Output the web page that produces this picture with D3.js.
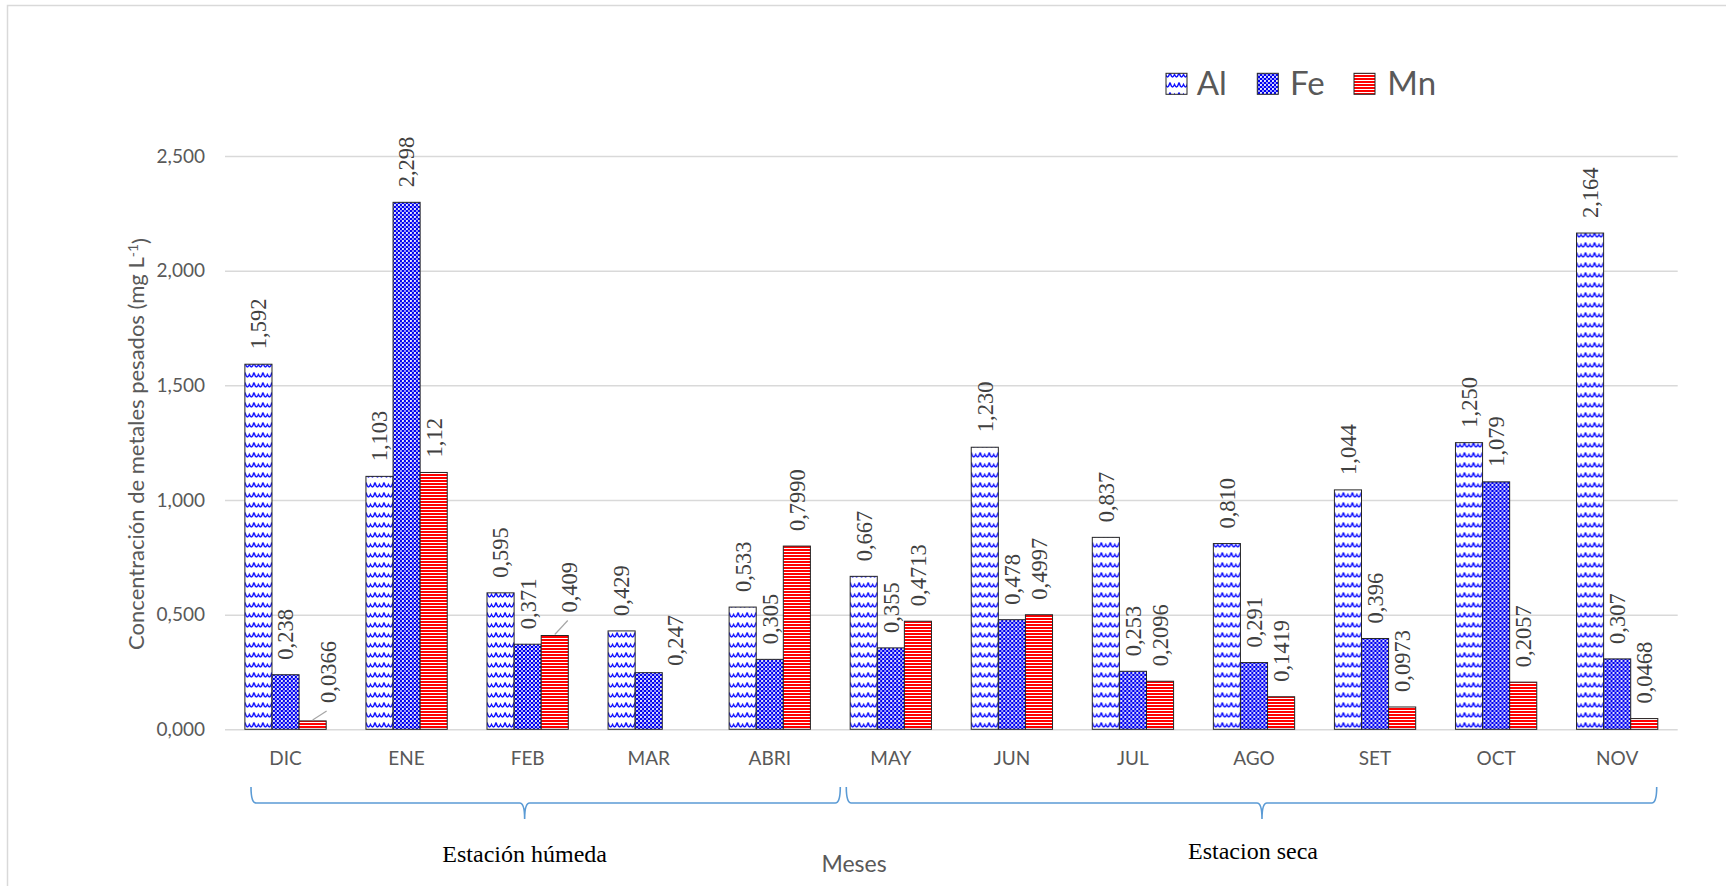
<!DOCTYPE html>
<html>
<head>
<meta charset="utf-8">
<script src="https://cdn.jsdelivr.net/npm/d3@7"></script>
<style>
  html, body { margin: 0; padding: 0; background: #fff; }
  svg { display: block; }
</style>
</head>
<body>
<svg id="chart" width="1726" height="886"></svg>
<script>
// Monthly heavy-metal concentrations (mg/L)
const months = ["DIC", "ENE", "FEB", "MAR", "ABRI", "MAY", "JUN", "JUL", "AGO", "SET", "OCT", "NOV"];
const alValues = [1.592, 1.103, 0.595, 0.429, 0.533, 0.667, 1.230, 0.837, 0.810, 1.044, 1.250, 2.164];
const feValues = [0.238, 2.298, 0.371, 0.247, 0.305, 0.355, 0.478, 0.253, 0.291, 0.396, 1.079, 0.307];
// Mn values as printed (variable precision); MAR has no measurement
const mnLabels = ["0,0366", "1,12", "0,409", null, "0,7990", "0,4713", "0,4997", "0,2096", "0,1419", "0,0973", "0,2057", "0,0468"];
const mnValues = mnLabels.map(s => s === null ? null : +s.replace(",", "."));

const seriesNames = ["Al", "Fe", "Mn"];
const yTickValues = [0, 0.5, 1.0, 1.5, 2.0, 2.5];
const yTickLabels = ["0,000", "0,500", "1,000", "1,500", "2,000", "2,500"];
const seasonNames = ["Estación húmeda", "Estacion seca"];

const svg = d3.select("#chart");
const W = 1726, H = 886;
const plot = { left: 225, right: 1677.7, top: 156, bottom: 729.3 };

svg.append("rect").attr("width", W).attr("height", H).attr("fill", "#fff");
// chart frame
svg.append("rect").attr("x", 7.5).attr("y", 5.5).attr("width", 1800).attr("height", 1000)
  .attr("fill", "none").attr("stroke", "#d9d9d9").attr("stroke-width", 1.5);

// ---- fill patterns ----
const defs = svg.append("defs");
const pAl = defs.append("pattern").attr("id", "pat-al").attr("patternUnits", "userSpaceOnUse")
  .attr("width", 9).attr("height", 10);
pAl.append("rect").attr("width", 9).attr("height", 10).attr("fill", "#fff");
pAl.append("path").attr("d", "M0,2.5 C1.6,8 2.9,8 4.5,4.5 C6.1,8 7.4,8 9,2.5")
  .attr("fill", "none").attr("stroke", "#1010ff").attr("stroke-width", 1.5);

const pFe = defs.append("pattern").attr("id", "pat-fe").attr("patternUnits", "userSpaceOnUse")
  .attr("width", 4).attr("height", 4);
pFe.append("rect").attr("width", 4).attr("height", 4).attr("fill", "#0000f0");
pFe.append("circle").attr("cx", 1).attr("cy", 1).attr("r", 1.05).attr("fill", "#fff");
pFe.append("circle").attr("cx", 3).attr("cy", 3).attr("r", 0.9).attr("fill", "#e4e4ff");

const pMn = defs.append("pattern").attr("id", "pat-mn").attr("patternUnits", "userSpaceOnUse")
  .attr("width", 6).attr("height", 3);
pMn.append("rect").attr("width", 6).attr("height", 3).attr("fill", "#fff");
pMn.append("rect").attr("width", 6).attr("height", 2).attr("fill", "#ff0000");

const fills = { Al: "url(#pat-al)", Fe: "url(#pat-fe)", Mn: "url(#pat-mn)" };

// ---- scales ----
const x0 = d3.scaleBand().domain(months).range([plot.left, plot.right])
  .paddingInner(0.3285).paddingOuter(0.16425);
const x1 = d3.scaleBand().domain(seriesNames).range([0, x0.bandwidth()]).padding(0);
const y = d3.scaleLinear().domain([0, 2.5]).range([plot.bottom, plot.top]);

// ---- gridlines + y axis ----
const yAxis = svg.append("g").attr("transform", `translate(${plot.left},0)`)
  .call(d3.axisLeft(y).tickValues(yTickValues)
    .tickFormat((d, i) => yTickLabels[i])
    .tickSize(-(plot.right - plot.left)).tickPadding(20));
yAxis.select(".domain").remove();
yAxis.selectAll(".tick line").attr("stroke", "#d9d9d9").attr("stroke-width", 1.5);
yAxis.selectAll(".tick text").attr("fill", "#595959")
  .style("font-family", "Lato, 'Open Sans', sans-serif").style("font-size", "19px");

// ---- x axis ----
const xAxis = svg.append("g").attr("transform", `translate(0,${plot.bottom})`)
  .call(d3.axisBottom(x0).tickSize(0).tickPadding(22));
xAxis.select(".domain").remove();
xAxis.selectAll(".tick text").attr("fill", "#595959")
  .style("font-family", "Lato, 'Open Sans', sans-serif").style("font-size", "19px");

// ---- bars ----
const rows = months.map((m, i) => ({ month: m, Al: alValues[i], Fe: feValues[i], Mn: mnValues[i] }));
const labelText = {
  Al: i => d3.format(".3f")(alValues[i]).replace(".", ","),
  Fe: i => d3.format(".3f")(feValues[i]).replace(".", ","),
  Mn: i => mnLabels[i]
};

const groups = svg.append("g").selectAll("g").data(rows).join("g")
  .attr("transform", d => `translate(${x0(d.month)},0)`);

groups.selectAll("rect")
  .data(d => seriesNames.filter(s => d[s] !== null).map(s => ({ key: s, value: d[s] })))
  .join("rect")
  .attr("x", d => x1(d.key))
  .attr("y", d => y(d.value))
  .attr("width", x1.bandwidth())
  .attr("height", d => y(0) - y(d.value))
  .attr("fill", d => fills[d.key])
  .attr("stroke", "#262626")
  .attr("stroke-width", 1);

// ---- value labels (rotated) ----
const labelGap = 15;
// labels that were moved off their bars, with leader lines where drawn
const labelNudges = {
  "Mn-DIC": { dx: 15, lift: 3, leader: true },
  "Mn-FEB": { dx: 14, lift: 8, leader: true },
  "Fe-MAR": { dx: 26, lift: -8, leader: false }
};
const labelLayer = svg.append("g");
rows.forEach((d, i) => {
  seriesNames.forEach(s => {
    if (d[s] === null) return;
    const cx = x0(d.month) + x1(s) + x1.bandwidth() / 2;
    const top = y(d[s]);
    const nudge = labelNudges[`${s}-${d.month}`] || { dx: 0, lift: 0, leader: false };
    const lx = cx + nudge.dx;
    const ly = top - labelGap - nudge.lift;
    if (nudge.leader) {
      labelLayer.append("line")
        .attr("x1", cx).attr("y1", top - 1)
        .attr("x2", lx - 1).attr("y2", ly + 8)
        .attr("stroke", "#a6a6a6").attr("stroke-width", 1.2);
    }
    labelLayer.append("text")
      .attr("transform", `translate(${lx},${ly}) rotate(-90)`)
      .attr("dy", "0.35em")
      .attr("text-anchor", "start")
      .attr("fill", "#404040")
      .style("font-family", "'Liberation Serif', 'Times New Roman', serif")
      .style("font-size", "22.5px")
      .text(labelText[s](i));
  });
});

// ---- legend ----
const legendItems = [
  { key: "Al", sx: 1166, tx: 1196.7 },
  { key: "Fe", sx: 1257.3, tx: 1290 },
  { key: "Mn", sx: 1354, tx: 1387.3 }
];
const legend = svg.append("g");
legendItems.forEach(it => {
  legend.append("rect").attr("x", it.sx).attr("y", 73.3).attr("width", 21).attr("height", 21)
    .attr("fill", fills[it.key]).attr("stroke", "#262626").attr("stroke-width", 1);
  legend.append("text").attr("x", it.tx).attr("y", 94.5)
    .attr("fill", "#595959")
    .style("font-family", "Lato, 'Open Sans', sans-serif").style("font-size", "33px")
    .text(it.key);
});

// ---- axis titles ----
const yTitle = svg.append("text")
  .attr("transform", "translate(136.7,444) rotate(-90)")
  .attr("text-anchor", "middle").attr("dy", "0.35em")
  .attr("fill", "#595959")
  .style("font-family", "Lato, 'Open Sans', sans-serif").style("font-size", "22px");
yTitle.append("tspan").text("Concentración de metales pesados (mg L");
yTitle.append("tspan").attr("dy", "-0.45em").style("font-size", "14px").text("-1");
yTitle.append("tspan").attr("dy", "0.45em").text(")");

svg.append("text").attr("x", 854).attr("y", 872)
  .attr("text-anchor", "middle").attr("fill", "#595959")
  .style("font-family", "Lato, 'Open Sans', sans-serif").style("font-size", "23px")
  .text("Meses");

// ---- season braces ----
const step = x0.step();
const stepStart = m => x0(m) - (step - x0.bandwidth()) / 2;
const center = m => x0(m) + x0.bandwidth() / 2;
const braces = [
  { name: seasonNames[0], x0: stepStart("DIC") + 26, x1: stepStart("ABRI") + step + 10, tip: center("FEB") - 3, ty: 862 },
  { name: seasonNames[1], x0: stepStart("MAY") + 16, x1: stepStart("NOV") + step - 21, tip: center("AGO") + 8, ty: 859 }
];
const yT = 787, yM = 803, yB = 819, r = 5;
braces.forEach(b => {
  const p = `M${b.x0},${yT} Q${b.x0},${yM} ${b.x0 + r},${yM} L${b.tip - r},${yM} Q${b.tip},${yM} ${b.tip},${yB} ` +
            `Q${b.tip},${yM} ${b.tip + r},${yM} L${b.x1 - r},${yM} Q${b.x1},${yM} ${b.x1},${yT}`;
  svg.append("path").attr("d", p).attr("fill", "none")
    .attr("stroke", "#5b9bd5").attr("stroke-width", 1.6);
  svg.append("text").attr("x", b.tip - (b.name === seasonNames[1] ? 9 : 0)).attr("y", b.ty)
    .attr("text-anchor", "middle").attr("fill", "#000")
    .style("font-family", "'Liberation Serif', 'Times New Roman', serif").style("font-size", "24px")
    .text(b.name);
});
</script>
</body>
</html>
